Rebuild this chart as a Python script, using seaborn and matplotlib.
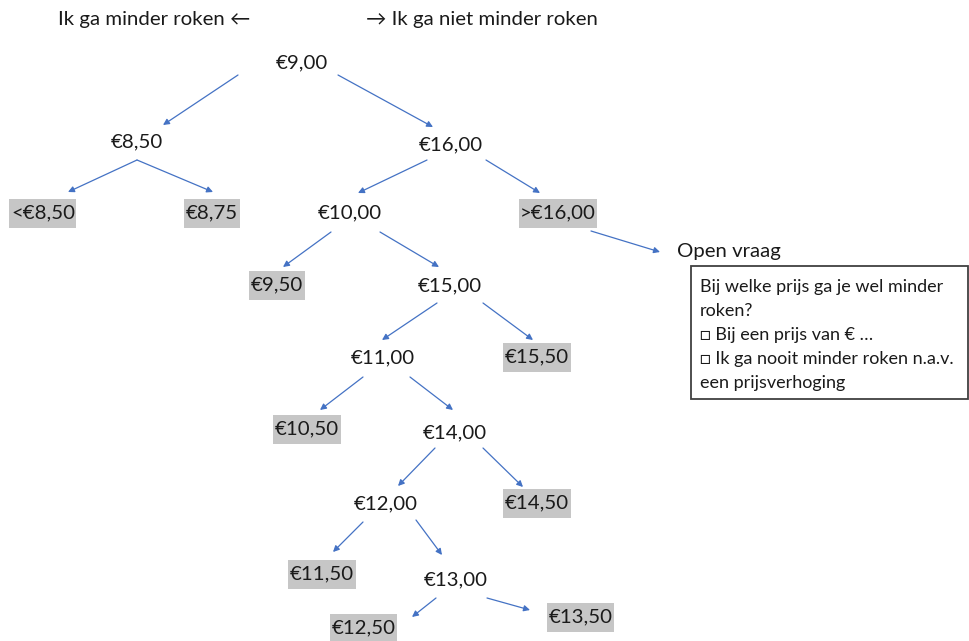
# Price decision tree: "Ik ga minder roken" vs "Ik ga niet minder roken"

import matplotlib
matplotlib.use("Agg")
import matplotlib.pyplot as plt
import seaborn as sns
from matplotlib.patches import Rectangle

sns.set_theme(style="white")
plt.rcParams["font.family"] = ["Lato", "DejaVu Sans"]

# ── data ─────────────────────────────────────────────────────────────────────

node_labels = ["€9,00", "€8,50", "€16,00", "<€8,50", "€8,75", "€10,00", ">€16,00",
               "€9,50", "€15,00", "€11,00", "€15,50", "€10,50", "€14,00",
               "€12,00", "€14,50", "€11,50", "€13,00", "€12,50", "€13,50"]
node_final = [False, False, False, True, True, False, True,
              True, False, False, True, True, False,
              False, True, True, False, True, True]

edges = [("€9,00", "€8,50"), ("€9,00", "€16,00"),
         ("€8,50", "<€8,50"), ("€8,50", "€8,75"),
         ("€16,00", "€10,00"), ("€16,00", ">€16,00"),
         (">€16,00", "Open vraag"),
         ("€10,00", "€9,50"), ("€10,00", "€15,00"),
         ("€15,00", "€11,00"), ("€15,00", "€15,50"),
         ("€11,00", "€10,50"), ("€11,00", "€14,00"),
         ("€14,00", "€12,00"), ("€14,00", "€14,50"),
         ("€12,00", "€11,50"), ("€12,00", "€13,00"),
         ("€13,00", "€12,50"), ("€13,00", "€13,50")]

header_left = "Ik ga minder roken \u2190"
header_right = "\u2192 Ik ga niet minder roken"
open_title = "Open vraag"
open_lines = ["Bij welke prijs ga je wel minder",
              "roken?",
              "\u25a1 Bij een prijs van € \u2026",
              "\u25a1 Ik ga nooit minder roken n.a.v.",
              "een prijsverhoging"]

# ── layout (pixel coordinates of the 969x641 canvas) ─────────────────────────

node_pos = {"€9,00": (302, 63), "€8,50": (137, 142), "€16,00": (451, 145),
            "<€8,50": (43, 213), "€8,75": (212, 213), "€10,00": (350, 213),
            ">€16,00": (558, 213), "€9,50": (277, 285), "€15,00": (450, 286),
            "€11,00": (383, 358), "€15,50": (537, 357), "€10,50": (307, 429),
            "€14,00": (455, 433), "€12,00": (386, 504), "€14,50": (537, 503),
            "€11,50": (322, 574), "€13,00": (456, 580), "€12,50": (364, 628),
            "€13,50": (581, 617)}

edge_ends = [((238, 75), (163, 125)), ((338, 75), (433, 127)),
             ((137, 160), (68, 192)), ((137, 160), (213, 192)),
             ((427, 160), (358, 193)), ((486, 160), (540, 193)),
             ((591, 231), (660, 252)),
             ((331, 232), (283, 267)), ((380, 232), (439, 267)),
             ((437, 303), (382, 340)), ((483, 303), (533, 340)),
             ((363, 377), (320, 410)), ((410, 377), (453, 410)),
             ((435, 448), (398, 486)), ((483, 448), (523, 487)),
             ((363, 522), (333, 552)), ((416, 520), (442, 555)),
             ((436, 598), (412, 617)), ((487, 598), (530, 610))]

TEXT = "#1a1a1a"
BLUE = "#4472C4"
GREY = "#c6c6c6"
FS = 14.7

# ── draw ─────────────────────────────────────────────────────────────────────

fig = plt.figure(figsize=(9.69, 6.41), dpi=100)
ax = fig.add_axes([0, 0, 1, 1])
ax.set_xlim(0, 969)
ax.set_ylim(641, 0)
ax.axis("off")

ax.text(154, 20, header_left, ha="center", va="center", fontsize=FS, color=TEXT)
ax.text(482, 20, header_right, ha="center", va="center", fontsize=FS, color=TEXT)

node_texts = []
for label, final in zip(node_labels, node_final):
    x, y = node_pos[label]
    t = ax.text(x, y, label, ha="center", va="center", fontsize=FS, color=TEXT, zorder=3)
    node_texts.append((t, final))

# grey background for end nodes: tight in x, ~29 px tall
fig.canvas.draw()
renderer = fig.canvas.get_renderer()
inv = ax.transData.inverted()
for t, final in node_texts:
    if not final:
        continue
    bb = t.get_window_extent(renderer)
    (x0, _), (x1, _) = inv.transform([(bb.x0, bb.y0), (bb.x1, bb.y1)])
    y = t.get_position()[1]
    ax.add_patch(Rectangle((x0 - 1.5, y - 14.5), (x1 - x0) + 3, 29,
                           fc=GREY, ec="none", zorder=2))

for (x0, y0), (x1, y1) in edge_ends:
    ax.annotate("", xy=(x1, y1), xytext=(x0, y0),
                arrowprops=dict(arrowstyle="-|>", color=BLUE, lw=0.9,
                                mutation_scale=9, shrinkA=0, shrinkB=0))

ax.text(677, 251, open_title, ha="left", va="center", fontsize=FS, color=TEXT)
ax.add_patch(Rectangle((691, 266), 277, 133, fill=False, ec="#404040", lw=1.3))
for i, line in enumerate(open_lines):
    ax.text(700, 287 + 24 * i, line, ha="left", va="center", fontsize=13, color=TEXT)

fig.savefig("out.png", dpi=100, facecolor="white")
